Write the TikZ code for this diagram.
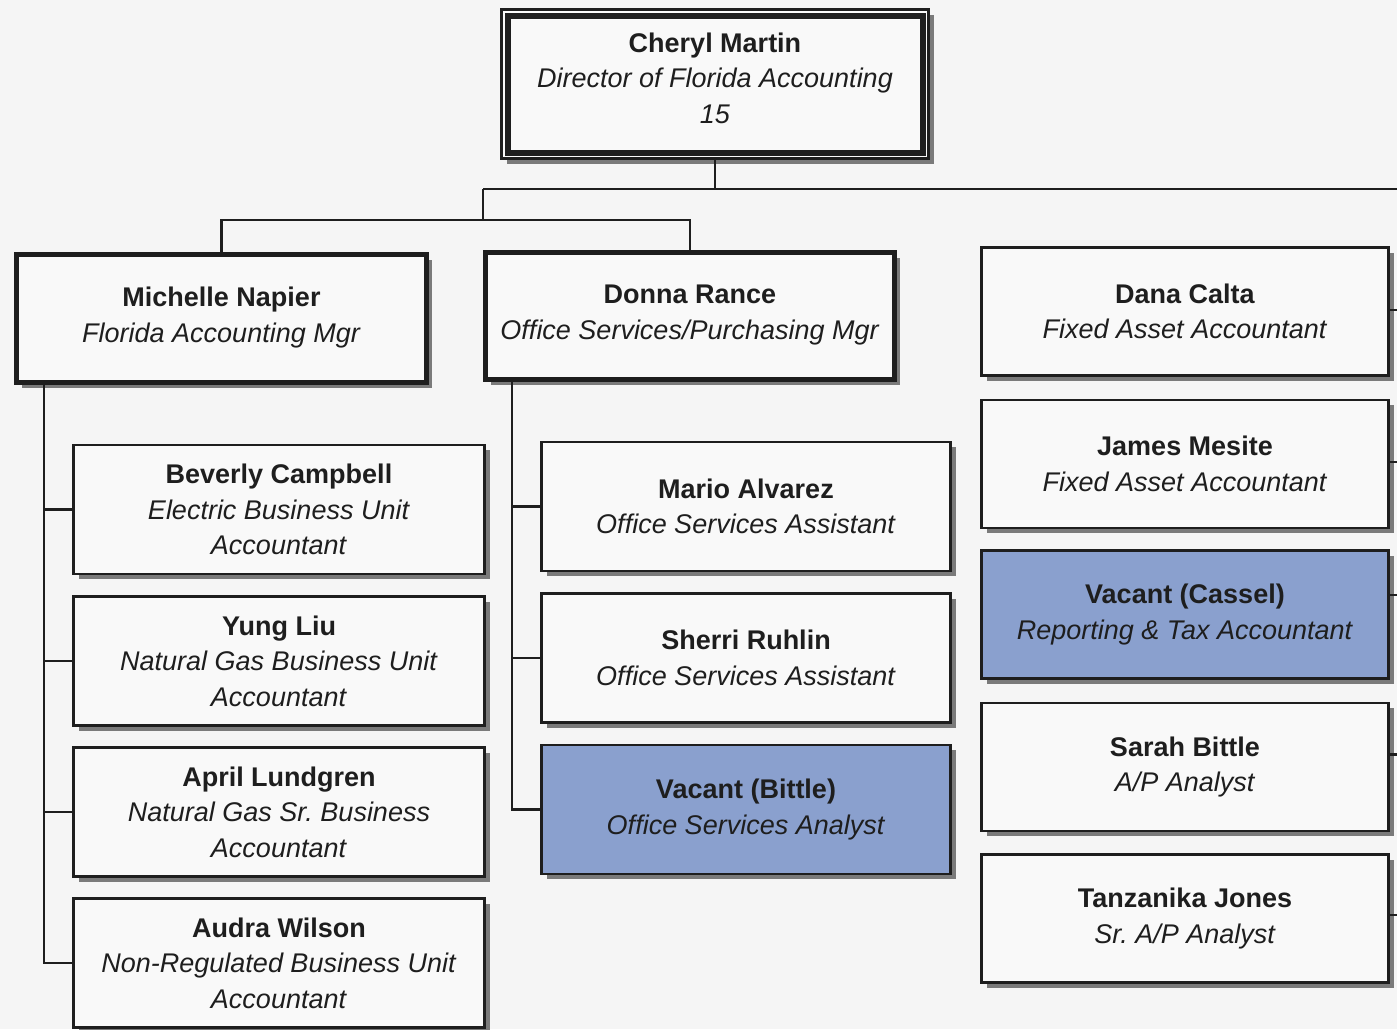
\documentclass[tikz,border=0pt]{standalone}
\usepackage{fontspec}
\setmainfont{Liberation Sans}
\usetikzlibrary{shadows}
\frenchspacing
\definecolor{pagebg}{RGB}{245,245,245}
\definecolor{boxfill}{RGB}{249,249,249}
\definecolor{vacantfill}{RGB}{138,160,206}
\definecolor{ink}{RGB}{30,30,30}
\definecolor{shade}{RGB}{122,122,122}
\tikzset{
  conn/.style={draw=ink, line width=1.1pt},
  card/.style={draw=ink, fill=boxfill, line width=1.4pt, align=center, inner sep=2pt,
    text=ink, font=\fontsize{13.5}{17.8}\selectfont,
    drop shadow={shadow xshift=2.6pt, shadow yshift=-2.6pt, fill=shade, opacity=1}},
  head/.style={card, line width=1.5pt, minimum width=213.5pt, minimum height=74.5pt},
  mgrbox/.style={card, line width=2.5pt, minimum width=205pt, minimum height=64pt},
  lcol/.style={card, minimum width=205.5pt, minimum height=64.5pt},
  mcol/.style={card, minimum width=204.5pt, minimum height=64.5pt},
  rcol/.style={card, minimum width=203.5pt, minimum height=64pt},
  vacant/.style={fill=vacantfill},
}
\begin{document}
\begin{tikzpicture}[x=0.5pt,y=-0.5pt]
\useasboundingbox (0,0) rectangle (1397,1029);
\fill[pagebg] (0,0) rectangle (1397,1029);

% director
\node[head] (top) at (715,84)
  {\textbf{Cheryl Martin}\\\textit{Director of Florida Accounting}\\\textit{15}\\[-12pt]\mbox{}};
\draw[ink, line width=3pt] ([xshift=3.75pt,yshift=-3.75pt]top.north west)
  rectangle ([xshift=-3.75pt,yshift=3.75pt]top.south east);

% managers
\node[mgrbox] (napier) at (221.5,318.5)
  {\textbf{Michelle Napier}\\\textit{Florida Accounting Mgr}\\[-14pt]\mbox{}};
\node[mgrbox, minimum width=204.5pt, minimum height=63.5pt] (rance) at (690,316)
  {\textbf{Donna Rance}\\\textit{Office Services/Purchasing Mgr}\\[-14pt]\mbox{}};

% accounting staff
\node[lcol] (campbell) at (279,509.5)
  {\textbf{Beverly Campbell}\\\textit{Electric Business Unit}\\\textit{Accountant}};
\node[lcol] (liu) at (279,661)
  {\textbf{Yung Liu}\\\textit{Natural Gas Business Unit}\\\textit{Accountant}};
\node[lcol] (lundgren) at (279,812)
  {\textbf{April Lundgren}\\\textit{Natural Gas Sr. Business}\\\textit{Accountant}};
\node[lcol] (wilson) at (279,963)
  {\textbf{Audra Wilson}\\\textit{Non-Regulated Business Unit}\\\textit{Accountant}};

% office services staff
\node[mcol] (alvarez) at (746,506.5)
  {\textbf{Mario Alvarez}\\\textit{Office Services Assistant}};
\node[mcol] (ruhlin) at (746,658)
  {\textbf{Sherri Ruhlin}\\\textit{Office Services Assistant}};
\node[mcol, vacant] (vbittle) at (746,809.5)
  {\textbf{Vacant (Bittle)}\\\textit{Office Services Analyst}};

% right-hand group
\node[rcol] (calta) at (1185,311.5)
  {\textbf{Dana Calta}\\\textit{Fixed Asset Accountant}};
\node[rcol] (mesite) at (1185,464)
  {\textbf{James Mesite}\\\textit{Fixed Asset Accountant}};
\node[rcol, vacant] (vcassel) at (1185,614.5)
  {\textbf{Vacant (Cassel)}\\\textit{Reporting \& Tax Accountant}};
\node[rcol] (sbittle) at (1185,767)
  {\textbf{Sarah Bittle}\\\textit{A/P Analyst}};
\node[rcol] (jones) at (1185,918.5)
  {\textbf{Tanzanika Jones}\\\textit{Sr. A/P Analyst}};

% bus coordinates
\coordinate (busA) at (483,189);
\coordinate (busE) at (1397,189);
\coordinate (busB) at (483,220);
\coordinate (lspine) at (44,385);
\coordinate (mspine) at (512,382);

% top-level connectors
\draw[conn] (top.south) -- (top.south |- busA);
\draw[conn] (busA) -- (busE);
\draw[conn] (busA) -- (busB);
\draw[conn] (napier.north) |- (busB) -| (rance.north);

% accounting branch
\draw[conn] (lspine) |- (wilson.west);
\draw[conn] (lspine |- campbell.west) -- (campbell.west);
\draw[conn] (lspine |- liu.west) -- (liu.west);
\draw[conn] (lspine |- lundgren.west) -- (lundgren.west);

% office services branch
\draw[conn] (mspine) |- (vbittle.west);
\draw[conn] (mspine |- alvarez.west) -- (alvarez.west);
\draw[conn] (mspine |- ruhlin.west) -- (ruhlin.west);

% right-hand stubs
\draw[conn] ([yshift=0.75pt]calta.east) -- ++(5pt,0);
\draw[conn] ([yshift=1pt]mesite.east) -- ++(5pt,0);
\draw[conn] ([yshift=9.75pt]vcassel.east) -- ++(5pt,0);
\draw[conn] ([yshift=6.25pt]sbittle.east) -- ++(5pt,0);
\draw[conn] ([yshift=1.75pt]jones.east) -- ++(5pt,0);
\end{tikzpicture}
\end{document}
